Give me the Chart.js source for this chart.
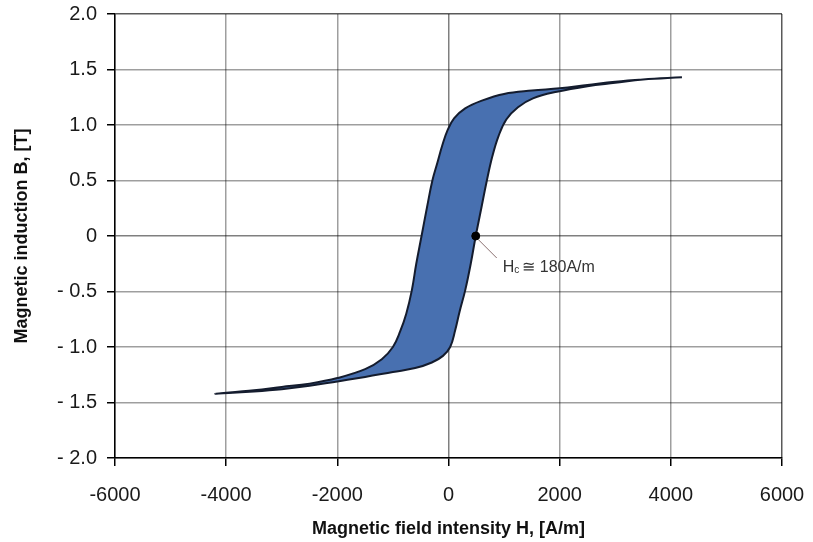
<!DOCTYPE html>
<html><head><meta charset="utf-8">
<script src="https://cdn.jsdelivr.net/npm/chart.js@4/dist/chart.umd.min.js"></script>
<style>html,body{margin:0;padding:0;background:#fff;} #wrap{width:813px;height:542px;}</style>
</head><body><div id="wrap"><canvas id="c" width="813" height="542"></canvas></div>
<script>
// Descending branch (upper-left boundary), from positive tip to negative tip
const descH = [4200, 3500, 3000, 2500, 2000, 1500, 1000, 600, 300, 100, -20, -110, -200, -290, -390, -485, -580, -660, -760, -870, -1000, -1200, -1500, -2000, -2500, -3000, -3500, -4200];
const descB = [1.43, 1.41, 1.39, 1.36, 1.33, 1.31, 1.28, 1.22, 1.15, 1.06, 0.95, 0.82, 0.66, 0.50, 0.25, 0, -0.25, -0.49, -0.70, -0.86, -1.00, -1.11, -1.20, -1.28, -1.33, -1.36, -1.39, -1.42];
// Ascending branch (lower-right boundary), from negative tip to positive tip
const ascH = [-4200, -3500, -3000, -2500, -2000, -1500, -1000, -600, -300, -100, 30, 120, 200, 300, 400, 490, 590, 690, 790, 900, 1040, 1250, 1520, 1950, 2500, 3000, 3500, 4200];
const ascB = [-1.42, -1.40, -1.38, -1.35, -1.31, -1.27, -1.225, -1.19, -1.14, -1.08, -1.00, -0.85, -0.68, -0.49, -0.25, 0, 0.25, 0.50, 0.72, 0.90, 1.05, 1.16, 1.24, 1.30, 1.35, 1.38, 1.41, 1.43];
// Marked coercive point
const coerciveH = [490];
const coerciveB = [0];
const coerciveLabel = 'H';
const coerciveSub = 'c';
const coerciveRest = '\u2245 180A/m';

const xTickValues = [-6000, -4000, -2000, 0, 2000, 4000, 6000];
const xTickLabels = ['-6000', '-4000', '-2000', '0', '2000', '4000', '6000'];
const yTickValues = [-2, -1.5, -1, -0.5, 0, 0.5, 1, 1.5, 2];
const yTickLabels = ['- 2.0', '- 1.5', '- 1.0', '- 0.5', '0', '0.5', '1.0', '1.5', '2.0'];
const xTitle = 'Magnetic field intensity H, [A/m]';
const yTitle = 'Magnetic induction B, [T]';

const FONT = '"Liberation Sans", Arial, sans-serif';
const loopPts = descH.map((h, i) => ({x: h, y: descB[i]}))
  .concat(ascH.slice(1).map((h, i) => ({x: h, y: ascB[i + 1]})));
const dotPts = coerciveH.map((h, i) => ({x: h, y: coerciveB[i]}));

const gridCol = (ctx, maxV) => {
  const v = ctx.tick && ctx.tick.value;
  if (v === maxV) return 'rgba(0,0,0,0.65)';
  if (v === 0) return 'rgba(0,0,0,0.5)';
  return 'rgba(0,0,0,0.38)';
};

const annot = {
  id: 'annot',
  afterDraw(chart) {
    const p = chart.getDatasetMeta(0).data[0];
    const c = chart.ctx;
    c.save();
    c.strokeStyle = '#8a7070';
    c.lineWidth = 1;
    c.beginPath();
    c.moveTo(p.x + 3, p.y + 4);
    c.lineTo(p.x + 21, p.y + 22);
    c.stroke();
    c.fillStyle = '#333';
    c.textBaseline = 'alphabetic';
    let x = p.x + 27, y = p.y + 36;
    c.font = '16px ' + FONT;
    c.fillText(coerciveLabel, x, y);
    x += c.measureText(coerciveLabel).width;
    c.font = '10px ' + FONT;
    c.fillText(coerciveSub, x, y + 1);
    x += c.measureText(coerciveSub).width + 3;
    c.font = '16px ' + FONT;
    c.fillText(coerciveRest, x, y);
    c.restore();
  }
};

new Chart(document.getElementById('c'), {
  type: 'scatter',
  data: {
    datasets: [
      {data: dotPts, pointRadius: 4, pointBackgroundColor: '#000', pointBorderColor: '#000', showLine: false, order: 0},
      {data: loopPts, showLine: true, fill: 'shape', backgroundColor: 'rgb(72,112,176)', borderColor: '#141c2e',
       borderWidth: 2, pointRadius: 0, tension: 0.4, order: 1}
    ]
  },
  options: {
    responsive: false, animation: false, devicePixelRatio: 1,
    layout: {padding: {top: 14, right: 31, left: 0, bottom: 0}},
    plugins: {legend: {display: false}, tooltip: {enabled: false}},
    scales: {
      x: {
        type: 'linear', min: -6000, max: 6000, z: 1,
        afterBuildTicks: s => { s.ticks = xTickValues.map(v => ({value: v})); },
        afterFit: s => { s.height = 84; s.paddingLeft = 0; s.paddingRight = 0; },
        ticks: {callback: v => xTickLabels[xTickValues.indexOf(v)], color: '#1a1a1a', font: {size: 20, family: FONT}, padding: 17, maxRotation: 0, autoSkip: false},
        grid: {color: ctx => gridCol(ctx, 6000), lineWidth: 1.5, tickColor: '#000', tickLength: 8},
        border: {color: '#000', width: 1.5},
        title: {display: true, text: xTitle, color: '#111', font: {size: 18, weight: 'bold', family: FONT}, padding: {top: 0, bottom: 2}}
      },
      y: {
        type: 'linear', min: -2, max: 2, z: 1,
        afterBuildTicks: s => { s.ticks = yTickValues.map(v => ({value: v})); },
        afterFit: s => { s.width = 115; s.paddingTop = 0; s.paddingBottom = 0; },
        ticks: {callback: v => yTickLabels[yTickValues.indexOf(v)], color: '#1a1a1a', font: {size: 20, family: FONT}, padding: 10, autoSkip: false},
        grid: {color: ctx => gridCol(ctx, 2), lineWidth: 1.5, tickColor: '#000', tickLength: 8},
        border: {color: '#000', width: 1.5},
        title: {display: true, text: yTitle, color: '#111', font: {size: 18, weight: 'bold', family: FONT}, padding: {top: 11, bottom: 0}}
      }
    }
  },
  plugins: [annot]
});
</script></body></html>
